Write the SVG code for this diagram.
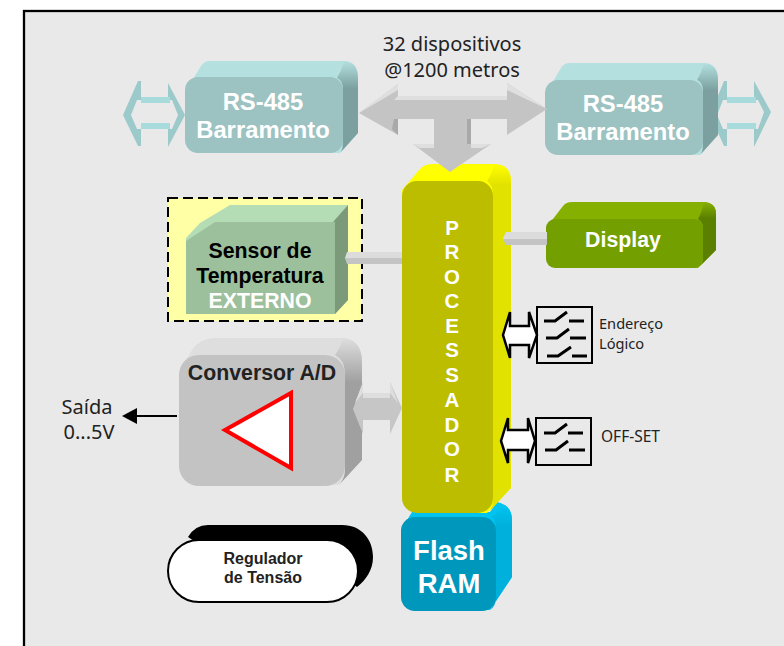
<svg xmlns="http://www.w3.org/2000/svg" width="784" height="646" viewBox="0 0 784 646">
<style>
text{font-family:"Liberation Sans",Arial,sans-serif;text-anchor:middle}
.b{font-weight:bold}
.t{font-family:"Noto Sans","DejaVu Sans",sans-serif;fill:#222}
.s{font-size:14.600px;text-anchor:start}
.w{fill:#fff}
.rs{font-size:23.800px;font-weight:bold;fill:#fff}
.m{font-size:21.300px;font-weight:bold}
.p{font-size:20.500px;font-weight:bold;fill:#fff}
.bc{fill:#9ccaca}
.bb{fill:#a8dcdc}
.sw{fill:none;stroke:#000;stroke-width:3}
.box{fill:none;stroke:#000;stroke-width:2}
.ar{fill:#fff;stroke:#000;stroke-width:2.500}
</style>
<defs>
<linearGradient id="sTeal" x1="0" y1="0" x2="0" y2="1"><stop offset="0" stop-color="#b4e0e0"/><stop offset=".3" stop-color="#7ba09f"/></linearGradient>
<linearGradient id="sGreen" x1="0" y1="0" x2="0" y2="1"><stop offset="0" stop-color="#86b000"/><stop offset=".25" stop-color="#5b8000"/></linearGradient>
<linearGradient id="sGrey" x1="0" y1="0" x2="0" y2="1"><stop offset="0" stop-color="#dedede"/><stop offset=".3" stop-color="#a0a0a0"/></linearGradient>
<linearGradient id="sYellow" x1="0" y1="0" x2="0" y2="1"><stop offset="0" stop-color="#ff0"/><stop offset=".06" stop-color="#e2e200"/></linearGradient>
<linearGradient id="sCyan" x1="0" y1="0" x2="0" y2="1"><stop offset="0" stop-color="#00c4ef"/><stop offset=".2" stop-color="#00b0dc"/></linearGradient>
</defs>
<rect x="24" y="11" width="780" height="660" fill="#e9e9e9" stroke="#000" stroke-width="2.300"/>
<g id="bus-left">
<path class="bc" d="M123 115 L138 81 H141 V100 H137 L131 115 L137 129 H141 V146 H138 Z M168 83 L185 115 L168 147 V129 H172 L178 115 L172 100 H168 Z"/>
<path class="bb" d="M141 97 H170 V103 H141 Z M141 123 H170 V129 H141 Z"/>
</g>
<g id="bus-right">
<path class="bc" d="M710 115 L724 81 H727 V100 H723 L717 115 L723 129 H727 V146 H724 Z M754 81 L771 112 L754 147 V129 H758 L764 112 L758 100 H754 Z"/>
<path class="bb" d="M727 97 H756 V103 H727 Z M727 123 H756 V129 H727 Z"/>
</g>
<g id="rs485-left">
<path d="M185 92 L201 66 Q204 61 210 61 H343 Q358 61 358 78 V133 L340 153 H200 Z" fill="#b4e0e0"/>
<path d="M337 78 Q342 70 344 61 Q358 62 358 78 V133 L341 152 Q343 148 343 142 V90 Q343 80 337 78 Z" fill="url(#sTeal)"/>
<rect x="185" y="77" width="158" height="76" rx="13" fill="#9cc3c2"/>
<text class="rs" x="263" y="110">RS-485</text><text class="rs" x="263" y="138">Barramento</text>
</g>
<g id="rs485-right">
<path d="M545 95 L561 68 Q564 63 570 63 H703 Q718 63 718 80 V135 L700 155 H560 Z" fill="#b4e0e0"/>
<path d="M697 80 Q702 72 704 63 Q718 64 718 80 V135 L701 154 Q703 150 703 144 V92 Q703 82 697 80 Z" fill="url(#sTeal)"/>
<rect x="545" y="80" width="158" height="75" rx="13" fill="#9cc3c2"/>
<text class="rs" x="623" y="112">RS-485</text><text class="rs" x="623" y="140">Barramento</text>
</g>
<text class="t" x="452" y="51" font-size="20">32 dispositivos</text>
<text class="t" x="452" y="77" font-size="20">@1200 metros</text>
<g id="sensor-frame"><rect x="168" y="198" width="194" height="123" fill="#ffffa6" stroke="#000" stroke-width="2" stroke-dasharray="10 5"/></g>
<g id="sensor">
<path d="M186 238 L200 223 L230 205 H348 V300 L335 314 H186 Z" fill="#b5ddb5"/>
<path d="M333 222 L348 205 V300 L335 314 Z" fill="#7a9a7a"/>
<path d="M186 241 L215 222 H335 V314 H186 Z" fill="#9cc09c"/>
<text class="m" x="260" y="258">Sensor de</text><text class="m" x="260" y="283">Temperatura</text><text class="m w" x="260" y="308">EXTERNO</text>
</g>
<g id="display">
<path d="M546 228 L563 206 Q566 202 572 202 H703 Q716 202 716 214 V250 L698 268 H560 Z" fill="#86b000"/>
<path d="M698 219 Q702 212 704 202 Q716 203 716 214 V250 L699 267 Q703 264 703 258 V228 Q703 222 698 219 Z" fill="url(#sGreen)"/>
<rect x="546" y="219" width="157" height="49" rx="9" fill="#739f00"/>
<text class="m w" x="623" y="247">Display</text>
</g>
<g id="adc">
<path d="M179 372 L192 350 Q200 338 215 338 H340 Q362 338 362 362 V460 L338 485 H195 Z" fill="#dedede"/>
<path d="M335 355 Q340 348 343 338 Q362 340 362 362 V460 L339 485 Q345 478 345 470 V375 Q345 360 335 355 Z" fill="url(#sGrey)"/>
<rect x="179" y="355" width="166" height="131" rx="20" fill="#c3c3c3"/>
<text class="m" x="262" y="380" fill="#222">Conversor A/D</text>
<path d="M225 430 L291 393 V468 Z" fill="#fff" stroke="#f00" stroke-width="4"/>
</g>
<text class="t" x="87" y="414" font-size="20">Saída</text>
<text class="t" x="89" y="439" font-size="20">0...5V</text>
<g id="flash">
<path d="M401 530 L412 512 H490 L497 502 Q512 505 512 520 V577 L490 610 H415 Z" fill="#00c4ef"/>
<path d="M492 517 L505 505 Q512 510 512 520 V577 L490 610 Q496 606 496 598 V530 Q496 520 492 517 Z" fill="url(#sCyan)"/>
<rect x="401" y="517" width="95" height="94" rx="14" fill="#0097bd"/>
<text class="b w" x="449" y="560" font-size="27.500">Flash</text><text class="b w" x="449" y="593" font-size="27.500">RAM</text>
</g>
<g id="processor">
<path d="M402 190 L419 170 Q424 164 432 164 H495 Q511 164 511 182 V488 L487 513 H420 Z" fill="#ff0"/>
<path d="M487 181 Q492 174 494 164 Q511 165 511 182 V488 L488 513 Q493 508 493 500 V195 Q493 185 487 181 Z" fill="url(#sYellow)"/>
<rect x="402" y="181" width="91" height="332" rx="15" fill="#bdbd00"/>
<text class="p" x="452" y="235">P</text><text class="p" x="452" y="259">R</text><text class="p" x="452" y="284">O</text><text class="p" x="452" y="308">C</text><text class="p" x="452" y="333">E</text><text class="p" x="452" y="357">S</text><text class="p" x="452" y="382">S</text><text class="p" x="452" y="407">A</text><text class="p" x="452" y="432">D</text><text class="p" x="452" y="456">O</text><text class="p" x="452" y="482">R</text>
</g>
<g id="switch-address">
<rect class="box" x="537" y="307" width="55" height="56"/>
<path class="sw" d="M544 321 H555 L567 312 M569 321 H584 M546 338 H557 L569 329 M570 338 H586 M547 356 H558 L571 347 M572 356 H587"/>
<text class="t s" x="599" y="329">Endereço</text><text class="t s" x="599" y="349">Lógico</text>
</g>
<g id="switch-offset">
<rect class="box" x="536" y="418" width="55" height="47"/>
<path class="sw" d="M544 433 H555 L567 424 M568 433 H583 M545 450 H556 L568 441 M569 450 H585"/>
<text class="t s" x="601" y="442" style="font-size:15.500px">OFF-SET</text>
</g>
<g id="regulator">
<path d="M188 537 Q195 525 208 525 H342 C362 525 373 540 373 557 C373 570 366 580 357 587 L340 575 L200 545 Z" fill="#000"/>
<rect x="168" y="540" width="190" height="62" rx="31" fill="#fff" stroke="#000" stroke-width="2"/>
<text class="b" x="263" y="564" font-size="16" fill="#222">Regulador</text><text class="b" x="263" y="583" font-size="16" fill="#222">de Tensão</text>
</g>
<g id="connectors">
<path d="M359 113 L398 84 V96 H507 V83 L547 109 L507 135 V119 H471 V144 H491 L450 172 L413 144 H434 V119 H398 V135 Z" fill="#c4c4c4"/>
<path d="M359 113 L398 84 V90 Z M398 96 H507 V100 H394 Z M507 83 L547 109 L507 90 Z M413 144 H434 V148 H420 Z M471 144 H491 L482 148 H471 Z" fill="#dfdfdf"/>
<path d="M467 119 H471 V144 H467 Z M392 129 L398 135 V119 H394 Z" fill="#a9a9a9"/>
<path d="M345 258 L347 252 H402 V259 H345 Z" fill="#dcdcdc"/><path d="M345 258 H402 V264 H347 Z" fill="#c4c4c4"/>
<path d="M503 238 L506 232 H547 V240 H503 Z" fill="#dcdcdc"/><path d="M503 239 H547 V245 H506 Z" fill="#c4c4c4"/>
<path d="M353 409 L363 382 V393 H390 V382 L402 408 L390 434 V420 H363 V434 Z" fill="#c6c6c6"/>
<path d="M363 382 L355 403 L363 393 Z M390 382 V393 L398 403 Z M363 393 H390 V398 H363 Z" fill="#dedede"/>
<path d="M177 416 H136" stroke="#000" stroke-width="2" fill="none"/><path d="M122 416 L137 408 V424 Z" fill="#000"/>
<path class="ar" d="M503 335 L510 312 V326 H529 V312 L537 335 L529 358 V345 H510 V358 Z"/>
<path class="ar" d="M501 441 L508 418 V430 H528 V418 L535 441 L528 463 V450 H508 V463 Z"/>
</g>
</svg>
